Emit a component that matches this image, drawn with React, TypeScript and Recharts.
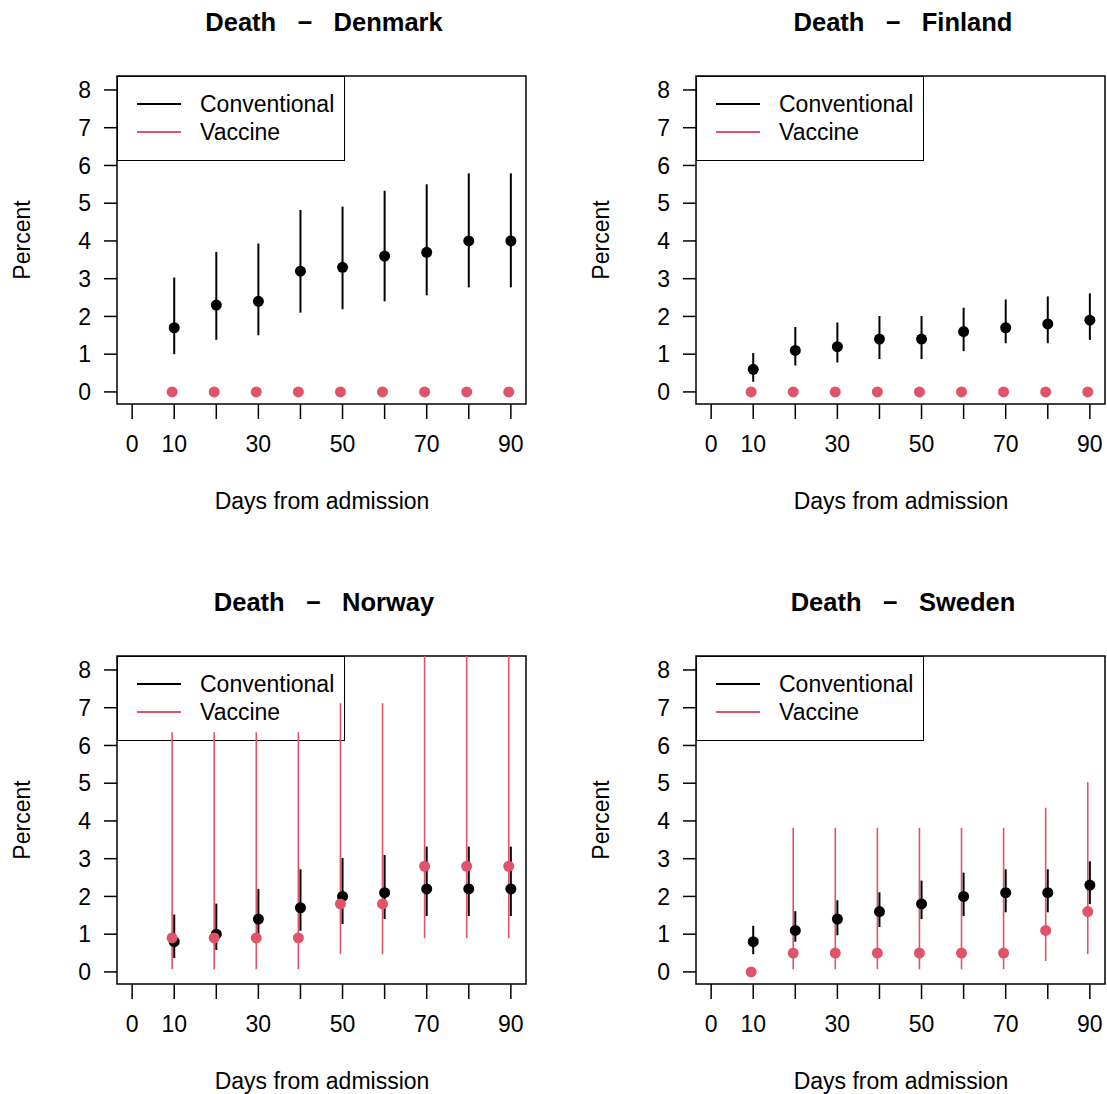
import React from "react";
import { ComposedChart, ErrorBar, ReferenceArea, Scatter, XAxis, YAxis } from "recharts";

const FONT = '"Liberation Sans", Arial, Helvetica, sans-serif';
const RED = "#DF536B";

// day positions; vaccine points are dodged a little to the left
const DAYS = [10, 20, 30, 40, 50, 60, 70, 80, 90];
const VACCINE_X = [9.5, 19.5, 29.5, 39.5, 49.5, 59.5, 69.5, 79.5, 89.5];
const X_TICKS = [0, 10, 20, 30, 40, 50, 60, 70, 80, 90];
const X_LABELS = [0, 10, 30, 50, 70, 90];
const Y_TICKS = [0, 1, 2, 3, 4, 5, 6, 7, 8];
const X_DOMAIN: [number, number] = [-3.6, 93.6];
const Y_DOMAIN: [number, number] = [-0.32, 8.37];

const DENMARK_CONV = [1.7, 2.3, 2.4, 3.2, 3.3, 3.6, 3.7, 4.0, 4.0];
const DENMARK_CONV_LO = [1.0, 1.38, 1.5, 2.1, 2.19, 2.4, 2.56, 2.77, 2.77];
const DENMARK_CONV_HI = [3.03, 3.71, 3.93, 4.82, 4.91, 5.33, 5.5, 5.79, 5.79];
const DENMARK_VAC = [0, 0, 0, 0, 0, 0, 0, 0, 0];
const DENMARK_VAC_LO = [0, 0, 0, 0, 0, 0, 0, 0, 0];
const DENMARK_VAC_HI = [0, 0, 0, 0, 0, 0, 0, 0, 0];

const FINLAND_CONV = [0.6, 1.1, 1.2, 1.4, 1.4, 1.6, 1.7, 1.8, 1.9];
const FINLAND_CONV_LO = [0.27, 0.7, 0.78, 0.87, 0.87, 1.08, 1.29, 1.29, 1.38];
const FINLAND_CONV_HI = [1.03, 1.72, 1.84, 2.01, 2.01, 2.23, 2.45, 2.53, 2.61];
const FINLAND_VAC = [0, 0, 0, 0, 0, 0, 0, 0, 0];
const FINLAND_VAC_LO = [0, 0, 0, 0, 0, 0, 0, 0, 0];
const FINLAND_VAC_HI = [0, 0, 0, 0, 0, 0, 0, 0, 0];

const NORWAY_CONV = [0.8, 1.0, 1.4, 1.7, 2.0, 2.1, 2.2, 2.2, 2.2];
const NORWAY_CONV_LO = [0.37, 0.58, 1.0, 1.09, 1.27, 1.4, 1.48, 1.48, 1.48];
const NORWAY_CONV_HI = [1.52, 1.81, 2.2, 2.72, 3.02, 3.1, 3.32, 3.32, 3.32];
const NORWAY_VAC = [0.9, 0.9, 0.9, 0.9, 1.8, 1.8, 2.8, 2.8, 2.8];
const NORWAY_VAC_LO = [0.07, 0.07, 0.07, 0.07, 0.47, 0.47, 0.89, 0.89, 0.89];
const NORWAY_VAC_HI = [6.35, 6.35, 6.35, 6.35, 7.12, 7.12, 9.9, 9.9, 9.9];

const SWEDEN_CONV = [0.8, 1.1, 1.4, 1.6, 1.8, 2.0, 2.1, 2.1, 2.3];
const SWEDEN_CONV_LO = [0.47, 0.8, 0.97, 1.19, 1.4, 1.48, 1.58, 1.58, 1.8];
const SWEDEN_CONV_HI = [1.22, 1.61, 1.9, 2.11, 2.42, 2.63, 2.72, 2.72, 2.93];
const SWEDEN_VAC = [0, 0.5, 0.5, 0.5, 0.5, 0.5, 0.5, 1.1, 1.6];
const SWEDEN_VAC_LO = [0, 0.07, 0.07, 0.07, 0.07, 0.07, 0.07, 0.29, 0.47];
const SWEDEN_VAC_HI = [0, 3.82, 3.82, 3.82, 3.82, 3.82, 3.82, 4.35, 5.03];

type Row = { x: number; y: number; err: [number, number] };

// intervals running past the top of the plot are cut at the frame, like R's clipping
const rows = (xs: number[], ys: number[], lo: number[], hi: number[]): Row[] =>
  xs.map((x, i) => ({
    x,
    y: ys[i],
    err: [ys[i] - lo[i], Math.min(hi[i], Y_DOMAIN[1]) - ys[i]],
  }));

const PANELS = [
  {
    title: "Denmark",
    left: 0,
    top: 0,
    conv: rows(DAYS, DENMARK_CONV, DENMARK_CONV_LO, DENMARK_CONV_HI),
    vac: rows(VACCINE_X, DENMARK_VAC, DENMARK_VAC_LO, DENMARK_VAC_HI),
  },
  {
    title: "Finland",
    left: 579,
    top: 0,
    conv: rows(DAYS, FINLAND_CONV, FINLAND_CONV_LO, FINLAND_CONV_HI),
    vac: rows(VACCINE_X, FINLAND_VAC, FINLAND_VAC_LO, FINLAND_VAC_HI),
  },
  {
    title: "Norway",
    left: 0,
    top: 580,
    conv: rows(DAYS, NORWAY_CONV, NORWAY_CONV_LO, NORWAY_CONV_HI),
    vac: rows(VACCINE_X, NORWAY_VAC, NORWAY_VAC_LO, NORWAY_VAC_HI),
  },
  {
    title: "Sweden",
    left: 579,
    top: 580,
    conv: rows(DAYS, SWEDEN_CONV, SWEDEN_CONV_LO, SWEDEN_CONV_HI),
    vac: rows(VACCINE_X, SWEDEN_VAC, SWEDEN_VAC_LO, SWEDEN_VAC_HI),
  },
];

const dot = (fill: string) => (p: any) => <circle cx={p.cx} cy={p.cy} r={5.5} fill={fill} />;
const noDot = () => <g />;

const tickStyle = { fontSize: 23, fill: "#000", fontFamily: FONT };

function Legend() {
  return (
    <div
      style={{
        position: "absolute",
        left: 117,
        top: 76,
        width: 228,
        height: 85,
        boxSizing: "border-box",
        border: "1.5px solid #000",
        fontFamily: FONT,
        fontSize: 23,
      }}
    >
      {[
        { label: "Conventional", color: "#000", y: 27 },
        { label: "Vaccine", color: RED, y: 55 },
      ].map((it) => (
        <React.Fragment key={it.label}>
          <div
            style={{
              position: "absolute",
              left: 19,
              top: it.y - 1,
              width: 44,
              height: 1.5,
              background: it.color,
            }}
          />
          <div style={{ position: "absolute", left: 82, top: it.y - 13, lineHeight: "26px" }}>
            {it.label}
          </div>
        </React.Fragment>
      ))}
    </div>
  );
}

function Panel({ title, left, top, conv, vac }: (typeof PANELS)[number]) {
  return (
    <div style={{ position: "absolute", left, top, width: 528, height: 514 }}>
      <div
        style={{
          position: "absolute",
          left: 324,
          top: 22,
          transform: "translate(-50%, -50%)",
          fontFamily: FONT,
          fontWeight: "bold",
          fontSize: 25.5,
          lineHeight: "30px",
          whiteSpace: "pre",
        }}
      >
        {`Death   \u2212   ${title}`}
      </div>
      <div
        style={{
          position: "absolute",
          left: 22,
          top: 240,
          transform: "translate(-50%, -50%) rotate(-90deg)",
          fontFamily: FONT,
          fontSize: 23,
          lineHeight: "23px",
          whiteSpace: "nowrap",
        }}
      >
        Percent
      </div>
      <div
        style={{
          position: "absolute",
          left: 322,
          top: 501,
          transform: "translate(-50%, -50%)",
          fontFamily: FONT,
          fontSize: 23,
          lineHeight: "23px",
          whiteSpace: "nowrap",
        }}
      >
        Days from admission
      </div>
      <Legend />
      <div style={{ position: "absolute", left: 0, top: 0 }}>
        <ComposedChart width={528} height={470} margin={{ top: 76, right: 2, bottom: 6, left: 57 }}>
          <XAxis
            type="number"
            dataKey="x"
            domain={X_DOMAIN}
            ticks={X_TICKS}
            interval={0}
            allowDataOverflow
            axisLine={false}
            tickSize={15}
            tickMargin={17}
            height={60}
            tick={tickStyle}
            tickLine={{ stroke: "#000", strokeWidth: 1.5 }}
            tickFormatter={(v: number) => (X_LABELS.includes(v) ? String(v) : "")}
          />
          <YAxis
            type="number"
            dataKey="y"
            domain={Y_DOMAIN}
            ticks={Y_TICKS}
            interval={0}
            allowDataOverflow
            axisLine={false}
            tickSize={13}
            tickMargin={13}
            width={60}
            tick={tickStyle}
            tickLine={{ stroke: "#000", strokeWidth: 1.5 }}
          />
          <ReferenceArea
            x1={X_DOMAIN[0]}
            x2={X_DOMAIN[1]}
            y1={Y_DOMAIN[0]}
            y2={Y_DOMAIN[1]}
            fill="none"
            stroke="#000"
            strokeWidth={1.5}
            ifOverflow="visible"
          />
          {/* vaccine intervals underneath */}
          <Scatter data={vac} shape={noDot} isAnimationActive={false}>
            <ErrorBar dataKey="err" direction="y" width={0} stroke={RED} strokeWidth={1.6} isAnimationActive={false} />
          </Scatter>
          <Scatter data={conv} shape={dot("#000")} isAnimationActive={false}>
            <ErrorBar dataKey="err" direction="y" width={0} stroke="#000" strokeWidth={2} isAnimationActive={false} />
          </Scatter>
          <Scatter data={vac} shape={dot(RED)} isAnimationActive={false} />
        </ComposedChart>
      </div>
    </div>
  );
}

export default function App() {
  return (
    <div
      style={{
        position: "absolute",
        left: 0,
        top: 0,
        width: 1107,
        height: 1094,
        overflow: "hidden",
        background: "#fff",
        color: "#000",
      }}
    >
      {PANELS.map((p) => (
        <Panel key={p.title} {...p} />
      ))}
    </div>
  );
}
